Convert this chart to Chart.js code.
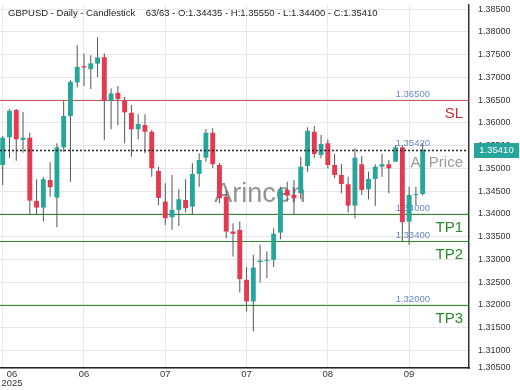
<!DOCTYPE html>
<html>
<head>
<meta charset="utf-8">
<script src="https://cdn.jsdelivr.net/npm/chart.js@4.4.1/dist/chart.umd.min.js"></script>
<style>
  html, body { margin: 0; padding: 0; background: #fff; }
  #wrap { position: relative; width: 520px; height: 390px; }
  #titulo { position: absolute; left: 8px; top: 7px; font: 9.5px "Liberation Sans", Arial, sans-serif; line-height: 11px; color: #222; white-space: pre; pointer-events: none; }
</style>
</head>
<body>
<div id="wrap">
  <canvas id="grafico" width="520" height="390"></canvas>
  <div id="titulo"></div>
</div>
<script>
// ================= DADOS =================
const simbolo = "GBPUSD - Daily - Candlestick";

const opens = [1.35073, 1.35681, 1.36281, 1.35622, 1.35672, 1.34283, 1.34136, 1.34744, 1.34355, 1.35462,
  1.36149, 1.36889, 1.37246, 1.37180, 1.37301, 1.37444, 1.36485, 1.36660, 1.36500, 1.36221,
  1.35857, 1.35951, 1.35804, 1.34942, 1.34268, 1.33925, 1.34086, 1.34305, 1.34158, 1.34876,
  1.35234, 1.35782, 1.35073, 1.34377, 1.33609, 1.33647, 1.32549, 1.32073, 1.32938, 1.32966,
  1.32988, 1.33587, 1.34525, 1.34415, 1.34452, 1.35051, 1.35804, 1.35293, 1.35550, 1.35073,
  1.34854, 1.34650, 1.34180, 1.35089, 1.34540, 1.34766, 1.35036, 1.35089, 1.35146, 1.35462,
  1.33829, 1.34415, 1.34435];
const highs = [1.35710, 1.36302, 1.36302, 1.36237, 1.35782, 1.34759, 1.34816, 1.35133, 1.35550, 1.36485,
  1.36939, 1.37707, 1.37525, 1.37488, 1.37883, 1.37525, 1.36757, 1.36807, 1.36572, 1.36390,
  1.36186, 1.36186, 1.35842, 1.35029, 1.34672, 1.34854, 1.34540, 1.34759, 1.35111, 1.35330,
  1.35863, 1.35879, 1.35124, 1.34525, 1.33794, 1.33829, 1.32828, 1.33098, 1.33317, 1.33170,
  1.33684, 1.34597, 1.34707, 1.34744, 1.35255, 1.35901, 1.35929, 1.35732, 1.35637, 1.35315,
  1.35095, 1.34816, 1.35440, 1.35271, 1.34926, 1.35089, 1.35315, 1.35183, 1.35512, 1.35512,
  1.34597, 1.34597, 1.35550];
const lows = [1.34634, 1.35227, 1.35168, 1.35343, 1.33991, 1.33991, 1.33829, 1.34377, 1.33706, 1.35365,
  1.34707, 1.36779, 1.36807, 1.36741, 1.37005, 1.35622, 1.35857, 1.35951, 1.35550, 1.35255,
  1.35637, 1.35330, 1.34816, 1.34195, 1.33756, 1.33647, 1.33734, 1.34026, 1.33998, 1.34597,
  1.35146, 1.35001, 1.34233, 1.33464, 1.33060, 1.32270, 1.31853, 1.31414, 1.32490, 1.32586,
  1.32828, 1.33442, 1.34268, 1.33998, 1.34320, 1.34926, 1.35220, 1.35220, 1.35001, 1.34781,
  1.34452, 1.34026, 1.33903, 1.34415, 1.34320, 1.34173, 1.34816, 1.34452, 1.35146, 1.33390,
  1.33317, 1.34195, 1.34400];
const closes = [1.35672, 1.36265, 1.35637, 1.35672, 1.34290, 1.34136, 1.34759, 1.34584, 1.35462, 1.36149,
  1.36902, 1.37231, 1.37218, 1.37306, 1.37437, 1.36485, 1.36647, 1.36522, 1.36230, 1.35857,
  1.35973, 1.35804, 1.35001, 1.34349, 1.33903, 1.34086, 1.34320, 1.34123, 1.34876, 1.35183,
  1.35782, 1.35089, 1.34342, 1.33609, 1.33559, 1.32564, 1.32073, 1.32819, 1.32973, 1.32988,
  1.33559, 1.34540, 1.34399, 1.34342, 1.35036, 1.35826, 1.35315, 1.35534, 1.35073, 1.34854,
  1.34656, 1.34180, 1.35234, 1.34525, 1.34766, 1.35036, 1.35089, 1.35001, 1.35462, 1.33816,
  1.34415, 1.34437, 1.35410];

// eixo X: posição (índice do candle) e rótulo
const tickIdx = [0, 12, 24, 36, 48, 60];
const tickLabels = [["06", "2025"], "06", "07", "07", "08", "09"];

// eixo Y
const yTicks = [1.310, 1.315, 1.320, 1.325, 1.330, 1.335, 1.340, 1.345, 1.350, 1.355,
  1.360, 1.365, 1.370, 1.375, 1.380, 1.385];
const yBottomLabel = "1.30500";

// níveis
const levelValues = [1.36500, 1.35420, 1.34000, 1.33400, 1.32000];
const levelNames = ["SL", "At Price", "TP1", "TP2", "TP3"];

const marca = "Arincen";

/* ===== ESTILO ===== */
const VERDE = "#26a69a";
const VERMELHO = "#e5394f";
const FONTE = '"Liberation Sans", Arial, sans-serif';

function corNivel(nome) {
    if (nome === "SL") return { linha: "#c25a5a", texto: "#d42c2c" };
    if (nome === "At Price") return { linha: null, texto: "#999999" };
    return { linha: "#2f8a2f", texto: "#2b8a2b" };
}

/* ===== TÍTULO ===== */
const n = closes.length;
document.getElementById("titulo").textContent =
    simbolo + "    " + n + "/" + n +
    " - O:" + opens[n - 1].toFixed(5) +
    " - H:" + highs[n - 1].toFixed(5) +
    " - L:" + lows[n - 1].toFixed(5) +
    " - C:" + closes[n - 1].toFixed(5);

/* ===== PLUGINS ===== */
const niveisPlugin = {
    id: "niveis",
    beforeDatasetsDraw(chart) {
        const { ctx, chartArea: a, scales: { y } } = chart;
        ctx.save();

        // marca d'água
        ctx.font = "27px " + FONTE;
        ctx.fillStyle = "rgba(80,80,80,0.62)";
        ctx.textAlign = "center";
        ctx.textBaseline = "middle";
        ctx.fillText(marca, chart.width / 2, chart.height / 2);

        levelValues.forEach((v, i) => {
            const py = Math.round(y.getPixelForValue(v)) + 0.5;
            const cor = corNivel(levelNames[i]);
            if (cor.linha) {
                ctx.strokeStyle = cor.linha;
                ctx.lineWidth = 1.2;
                ctx.beginPath();
                ctx.moveTo(a.left, py);
                ctx.lineTo(a.right, py);
                ctx.stroke();
            }
            ctx.textAlign = "right";
            ctx.font = "9.5px " + FONTE;
            ctx.fillStyle = "#6688cc";
            ctx.fillText(v.toFixed(5), a.right - 39, py - 6);
            ctx.font = "15px " + FONTE;
            ctx.fillStyle = cor.texto;
            ctx.fillText(levelNames[i], a.right - 6, py + 13);
        });
        ctx.restore();
    },
    afterDatasetsDraw(chart) {
        const { ctx, chartArea: a, scales: { y } } = chart;
        const ultimo = closes[closes.length - 1];
        const py = Math.round(y.getPixelForValue(ultimo)) + 0.5;
        ctx.save();
        ctx.strokeStyle = "#222";
        ctx.lineWidth = 1.5;
        ctx.setLineDash([2, 2]);
        ctx.beginPath();
        ctx.moveTo(a.left, py);
        ctx.lineTo(a.right, py);
        ctx.stroke();
        ctx.setLineDash([]);

        ctx.fillStyle = VERDE;
        ctx.fillRect(a.right + 5, py - 7.5, 45, 15);
        ctx.fillStyle = "#fff";
        ctx.font = "9.5px " + FONTE;
        ctx.textAlign = "center";
        ctx.textBaseline = "middle";
        ctx.fillText(ultimo.toFixed(5), a.right + 27.5, py);
        ctx.restore();
    }
};

// primeiro rótulo do eixo X encostado na borda esquerda
const primeiroRotulo = {
    id: "primeiroRotulo",
    beforeDraw(chart) {
        const itens = chart.scales.x.getLabelItems();
        if (itens.length) itens[0].options.translation[0] = 12;
    }
};

/* ===== GRÁFICO ===== */
new Chart(document.getElementById("grafico"), {
    type: "bar",
    data: {
        datasets: [{
            data: opens.map((o, i) => ({ x: i, y: [o, closes[i]] })),
            backgroundColor: opens.map((o, i) => closes[i] >= o ? VERDE : VERMELHO),
            maxBarThickness: 5,
            minBarLength: 1,
            grouped: false,
            order: 0
        }, {
            data: highs.map((h, i) => ({ x: i, y: [lows[i], h] })),
            backgroundColor: "#555",
            maxBarThickness: 1,
            grouped: false,
            order: 1
        }]
    },
    options: {
        responsive: false,
        animation: false,
        layout: { padding: { top: 5, left: 0, right: 0, bottom: 0 } },
        plugins: { legend: { display: false }, tooltip: { enabled: false } },
        scales: {
            x: {
                type: "linear",
                offset: false,
                min: -0.4,
                max: 68.84,
                afterBuildTicks: s => { s.ticks = tickIdx.map(v => ({ value: v })); },
                afterFit: s => { s.height = 22; s.paddingLeft = 0; s.paddingRight = 0; },
                grid: { color: "#e6e6e6", drawTicks: false, offset: false },
                border: { color: "#222", width: 1.5 },
                ticks: {
                    autoSkip: false,
                    maxRotation: 0,
                    padding: 2,
                    color: "#333",
                    font: { family: FONTE, size: 9.5, lineHeight: 0.95 },
                    callback: (v, i) => tickLabels[i]
                }
            },
            y: {
                position: "right",
                min: 1.3061,
                max: 1.3859,
                afterBuildTicks: s => {
                    s.ticks = [{ value: s.min }].concat(yTicks.map(v => ({ value: v })));
                },
                afterFit: s => { s.width = 51; s.paddingTop = 0; s.paddingBottom = 0; },
                grid: { color: "#e6e6e6", drawTicks: false },
                border: { color: "#333", width: 1.5 },
                ticks: {
                    padding: 9,
                    color: "#333",
                    font: { family: FONTE, size: 9 },
                    callback: (v, i) => i === 0 ? yBottomLabel : v.toFixed(5)
                }
            }
        }
    },
    plugins: [niveisPlugin, primeiroRotulo]
});
</script>
</body>
</html>
